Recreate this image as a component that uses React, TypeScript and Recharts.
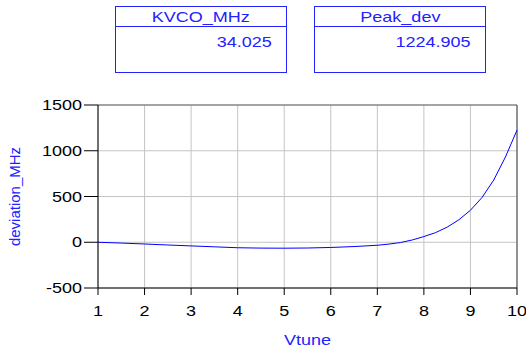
import { LineChart, Line, XAxis, YAxis, CartesianGrid, ReferenceLine } from "recharts"

const vtune = [1, 1.5, 2, 2.5, 3, 3.5, 4, 4.5, 5, 5.5, 6, 6.5, 7, 7.25, 7.5, 7.75, 8, 8.25, 8.5, 8.75, 9, 9.25, 9.5, 9.75, 10]
const deviation = [0, -9, -19, -30, -40, -50, -60, -64, -65, -63, -57, -47, -33, -20, -3, 25, 62, 105, 165, 245, 350, 490, 680, 930, 1224.905]

const xTicks = [1, 2, 3, 4, 5, 6, 7, 8, 9, 10]
const xMinor = [1.5, 2.5, 3.5, 4.5, 5.5, 6.5, 7.5, 8.5, 9.5]
const yTicks = [-500, 0, 500, 1000, 1500]
const yMinor = [-400, -300, -200, -100, 100, 200, 300, 400, 600, 700, 800, 900, 1100, 1200, 1300, 1400]

const boxes = [
  { title: "KVCO_MHz", value: "34.025", left: 115 },
  { title: "Peak_dev", value: "1224.905", left: 314 },
]

const data = vtune.map((v, i) => ({ v, dev: deviation[i] }))

const BLUE = "#2222ff"
const FONT = "'Liberation Sans', Arial, sans-serif"
const SX = 1.2 // the reference text is a bit wide

// stretched text for tick labels
function XTick({ x, y, payload }: any) {
  return (
    <text transform={`translate(${x},${y + 13}) scale(${SX},1)`} textAnchor="middle" fill="#000" fontSize={15} fontFamily={FONT}>
      {payload.value}
    </text>
  )
}

function YTick({ x, y, payload }: any) {
  return (
    <text transform={`translate(${x},${y + 5}) scale(${SX},1)`} textAnchor="end" fill="#000" fontSize={15} fontFamily={FONT}>
      {payload.value}
    </text>
  )
}

const wide = (origin: string) => ({ display: "inline-block", transform: `scaleX(${SX})`, transformOrigin: origin })

export default function App() {
  return (
    <div style={{ position: "absolute", left: 0, top: 0, width: 526, height: 349, background: "#fff", fontFamily: FONT }}>
      {boxes.map((b) => (
        <div
          key={b.title}
          style={{
            position: "absolute",
            left: b.left,
            top: 6,
            width: 170,
            height: 65,
            border: `1px solid ${BLUE}`,
            color: BLUE,
            fontSize: 15,
          }}
        >
          <div style={{ height: 19, borderBottom: `1px solid ${BLUE}`, textAlign: "center", lineHeight: "19px" }}>
            <span style={wide("center")}>{b.title}</span>
          </div>
          <div style={{ textAlign: "right", paddingRight: 14, paddingTop: 6 }}>
            <span style={wide("right")}>{b.value}</span>
          </div>
        </div>
      ))}

      <div style={{ position: "absolute", left: 0, top: 0 }}>
        <LineChart width={526} height={349} data={data} margin={{ top: 105, right: 9, bottom: 0, left: 0 }}>
          <CartesianGrid stroke="#c4c4c4" />

          {/* minor ticks (declared first so they sit on the plot edge) */}
          <XAxis
            xAxisId="m"
            type="number"
            dataKey="v"
            domain={[1, 10]}
            ticks={xMinor}
            tick={false}
            tickSize={4}
            axisLine={false}
            height={0}
            tickLine={{ stroke: "#000" }}
          />
          <XAxis
            type="number"
            dataKey="v"
            domain={[1, 10]}
            ticks={xTicks}
            height={61}
            tickSize={7}
            tickMargin={8}
            interval={0}
            axisLine={{ stroke: "#000" }}
            tickLine={{ stroke: "#000" }}
            tick={<XTick />}
            label={{ value: "Vtune", position: "insideBottom", offset: 4, fill: BLUE, fontSize: 15, fontFamily: FONT, style: { transform: "scaleX(1.2)", transformOrigin: "307px 340px", transformBox: "view-box" } }}
          />
          <YAxis
            yAxisId="m"
            type="number"
            domain={[-500, 1500]}
            ticks={yMinor}
            tick={false}
            tickSize={7}
            axisLine={false}
            width={0}
            tickLine={{ stroke: "#000" }}
          />
          <YAxis
            type="number"
            domain={[-500, 1500]}
            ticks={yTicks}
            width={98}
            tickSize={14}
            tickMargin={2}
            interval={0}
            axisLine={{ stroke: "#000" }}
            tickLine={{ stroke: "#000" }}
            tick={<YTick />}
            label={{ value: "deviation_MHz", angle: -90, position: "insideLeft", offset: 15, fill: BLUE, fontSize: 15, fontFamily: FONT, style: { textAnchor: "middle" } }}
          />

          <ReferenceLine y={1500} stroke="#666" />
          <ReferenceLine x={10} stroke="#444" />

          <Line
            type="linear"
            dataKey="dev"
            stroke="#0000ff"
            strokeWidth={1}
            dot={false}
            isAnimationActive={false}
          />
        </LineChart>
      </div>
    </div>
  )
}
